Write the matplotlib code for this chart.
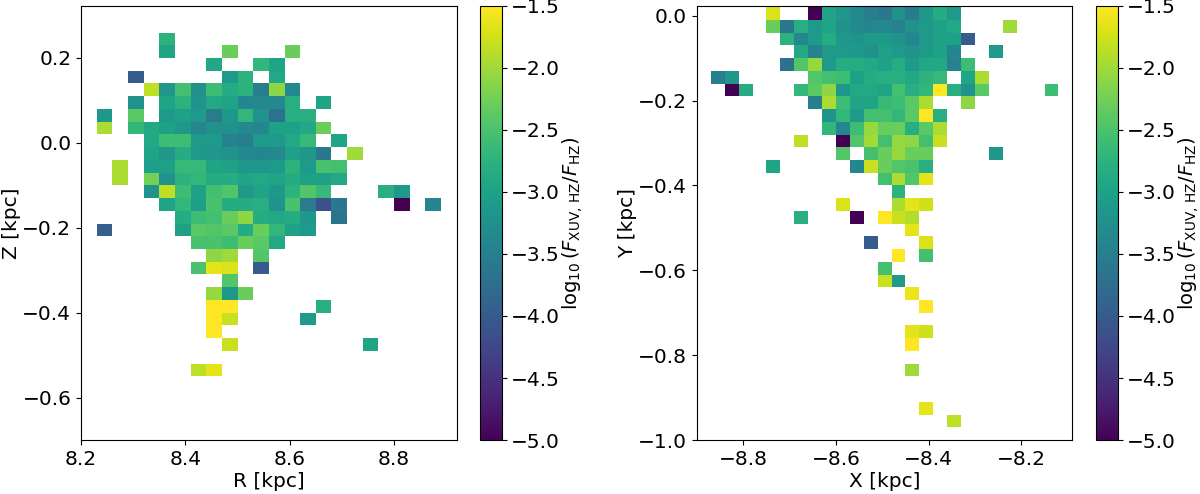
import numpy as np
import matplotlib
matplotlib.use("Agg")
import matplotlib.pyplot as plt

_ = np.nan

# Binned log10(F_XUV,HZ / F_HZ); each row is (first column index, values), top row first
# Left panel: R-Z plane, bins of 0.03 kpc
R_EDGE0, Z_EDGE0, BIN = 8.23, 0.26, 0.03
N_R, N_Z = 22, 27
rz_rows = [
    (4, [-2.75]),
    (4, [-2.95, _, _, _, -2.3, _, _, _, -2.3]),
    (7, [-2.9, _, _, -2.7, -2.95]),
    (2, [-4.0, _, _, _, _, _, -3.1, -2.75, _, -2.9]),
    (3, [-1.85, -3.15, -2.55, -3.25, -2.6, -2.85, -2.75, -3.5, -2.1, -3.35]),
    (2, [-3.2, _, -2.95, -2.75, -3.2, -2.9, -2.95, -3.4, -3.35, -3.35, -2.8, _, -2.95]),
    (0, [-3.15, _, -2.4, _, -3.1, -3.0, -3.1, -3.55, -3.15, -2.7, -3.2, -3.7, -2.8, -2.8]),
    (0, [-1.95, _, -2.7, -2.9, -3.0, -3.15, -3.4, -3.25, -3.25, -3.35, -3.4, -3.0, -3.0, -2.9, -2.3]),
    (3, [-2.9, -2.6, -2.6, -3.1, -3.1, -3.45, -3.5, -3.1, -3.1, -2.9, -2.65, _, -2.95]),
    (3, [-2.95, -3.15, -2.85, -3.1, -3.15, -3.2, -3.35, -3.4, -3.35, -3.0, -3.15, -3.6, _, -2.0]),
    (1, [-1.95, _, -3.05, -3.0, -2.65, -2.65, -2.95, -3.0, -3.15, -3.15, -3.1, -2.75, -3.1, -2.5, -2.55]),
    (1, [-1.95, _, -2.25, -3.2, -2.75, -2.7, -2.85, -2.85, -2.95, -2.9, -2.95, -2.85, -3.0, -3.0, -2.9]),
    (3, [-3.2, -1.85, -2.6, -3.0, -2.55, -2.45, -3.1, -2.95, -3.15, -2.75, -2.45, -2.65, _, _, _, -2.8, -3.1]),
    (4, [-2.95, -2.7, -3.05, -2.5, -2.85, -2.85, -2.8, -3.2, -2.5, -3.55, -4.15, -3.6, _, _, _, -5.0, _, -3.4]),
    (5, [-2.85, -2.6, -2.55, -2.3, -2.1, -2.85, -2.9, -2.85, -3.15, _, -3.65]),
    (0, [-3.95, _, _, _, _, -3.0, -2.4, -2.45, -2.4, -2.85, -2.3, -2.7, -3.0, -3.1]),
    (6, [-2.5, -2.5, -2.6, -2.3, -2.4, -2.9]),
    (7, [-2.1, -2.0, _, -2.45]),
    (6, [-2.5, -1.65, -1.7, _, -4.0]),
    (8, [-2.45]),
    (7, [-2.05, -3.15, -2.3]),
    (7, [-1.5, -1.5, _, _, _, _, _, -2.8]),
    (7, [-1.52, -1.8, _, _, _, _, -3.1]),
    (7, [-1.5]),
    (8, [-1.8, _, _, _, _, _, _, _, _, -2.95]),
    (0, []),
    (6, [-1.85, -1.65]),
]

# Right panel: X-Y plane
X_EDGE0, Y_EDGE0 = -8.87, 0.02
N_X, N_Y = 25, 33
xy_rows = [
    (4, [-1.7, _, _, -5.0, -2.95, -3.15, -3.35, -3.5, -3.6, -3.25, -3.55, -3.15, -2.85, -3.1]),
    (4, [-2.3, -3.6, -2.8, -3.1, -2.95, -3.25, -3.35, -3.4, -3.35, -3.45, -3.25, -3.1, -3.0, -2.9, _, _, _, -2.0]),
    (5, [-2.75, -3.4, -3.1, -2.85, -3.15, -3.2, -3.1, -3.1, -3.2, -3.4, -3.1, -3.0, -3.0, -4.0]),
    (6, [-2.9, -3.45, -3.1, -3.1, -3.15, -3.25, -3.0, -3.1, -3.2, -3.1, -3.0, -3.4, _, _, -3.1]),
    (5, [-3.7, -2.45, -2.05, -3.1, -2.85, -2.85, -2.9, -3.0, -2.85, -3.1, -2.9, -2.9, -3.45, -2.6]),
    (0, [-3.5, -3.15, _, _, _, _, _, -2.45, -2.55, -2.6, -3.0, -2.85, -2.8, -2.8, -2.9, -2.75, -2.65, _, -2.95, -1.95]),
    (1, [-5.0, -2.85, _, _, _, -2.7, -2.4, -2.1, -3.15, -2.9, -2.9, -2.95, -2.55, -2.8, -2.7, -1.5, -2.8, -3.2, -2.4,
         _, _, _, _, -2.6]),
    (7, [-3.5, -1.95, -2.6, -2.95, -2.95, -2.65, -2.6, -2.4, -1.95, _, _, -2.1]),
    (8, [-3.2, -2.7, -3.1, -2.55, -2.55, -2.7, -2.4, -1.5, -2.8]),
    (8, [-2.7, -3.4, -2.6, -2.05, -2.3, -2.3, -2.8, -2.4, -1.95]),
    (6, [-1.85, _, _, -5.0, -2.45, -2.0, -2.55, -2.05, -2.1, -2.55, -1.8]),
    (9, [-2.45, _, -2.55, -2.3, -2.05, -2.3, -2.3, _, _, _, _, -3.15]),
    (4, [-2.95, _, _, _, _, _, -3.4, -1.8, -2.3, -2.45, -2.5, -2.8]),
    (12, [-2.55, -1.95, -2.45, -1.65]),
    (13, [-2.75]),
    (9, [-1.7, _, _, _, -1.95, -1.65, -1.75]),
    (6, [-2.8, _, _, _, -5.0, _, -1.5, -1.8, -1.9]),
    (14, [-1.65]),
    (11, [-4.0, _, _, _, -1.7]),
    (13, [-1.5, _, -2.55]),
    (12, [-2.55]),
    (12, [-1.8, -3.1]),
    (14, [-1.6]),
    (15, [-1.5]),
    (0, []),
    (14, [-1.65, -1.75]),
    (14, [-1.5]),
    (0, []),
    (14, [-2.0]),
    (0, []),
    (0, []),
    (15, [-1.65]),
    (17, [-1.85]),
]


def to_grid(rows, ncol):
    grid = np.full((len(rows), ncol), np.nan)
    for j, (start, vals) in enumerate(rows):
        grid[j, start:start + len(vals)] = vals
    return grid


rz = to_grid(rz_rows, N_R)
xy = to_grid(xy_rows, N_X)

r_edges = R_EDGE0 + BIN * np.arange(N_R + 1)
z_edges = Z_EDGE0 - BIN * np.arange(N_Z + 1)
x_edges = X_EDGE0 + BIN * np.arange(N_X + 1)
y_edges = Y_EDGE0 - BIN * np.arange(N_Y + 1)

plt.rcParams['font.size'] = 14.5
cbar_label = r'$\log_{10}(F_{\rm XUV,\,HZ}/F_{\rm HZ})$'

fig = plt.figure(figsize=(12, 4.94), dpi=100)
ax1 = fig.add_axes([0.0675, 0.1093, 0.3131, 0.8786])
cax1 = fig.add_axes([0.4, 0.1093, 0.018, 0.8786])
ax2 = fig.add_axes([0.5808, 0.1093, 0.3128, 0.8786])
cax2 = fig.add_axes([0.9133, 0.1093, 0.018, 0.8786])

pc1 = ax1.pcolormesh(r_edges, z_edges, rz, cmap='viridis', vmin=-5, vmax=-1.5)
ax1.set(xlim=(8.2, 8.92), ylim=(-0.7, 0.3225))
ax1.set_xlabel('R [kpc]', labelpad=2)
ax1.set_ylabel('Z [kpc]', labelpad=1)
ax1.set_xticks([8.2, 8.4, 8.6, 8.8])
ax1.set_yticks([-0.6, -0.4, -0.2, 0.0, 0.2])
cb1 = fig.colorbar(pc1, cax=cax1)
cb1.set_label(cbar_label, labelpad=0, fontsize=14)

pc2 = ax2.pcolormesh(x_edges, y_edges, xy, cmap='viridis', vmin=-5, vmax=-1.5)
ax2.set(xlim=(-8.9, -8.09), ylim=(-1.0, 0.023))
ax2.set_xlabel('X [kpc]', labelpad=2)
ax2.set_ylabel('Y [kpc]', labelpad=1)
ax2.set_xticks([-8.8, -8.6, -8.4, -8.2])
ax2.set_yticks([-1.0, -0.8, -0.6, -0.4, -0.2, 0.0])
cb2 = fig.colorbar(pc2, cax=cax2)
cb2.set_label(cbar_label, labelpad=0, fontsize=14)

for cb in (cb1, cb2):
    cb.set_ticks(np.arange(-5.0, -1.49, 0.5))

fig.savefig('out.png', dpi=100)
